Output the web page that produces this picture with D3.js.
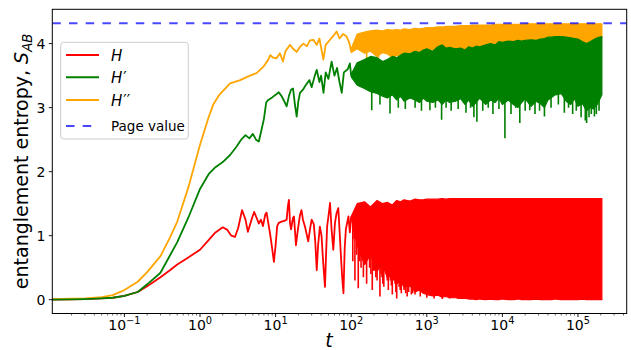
<!DOCTYPE html>
<html><head><meta charset="utf-8">
<script src="https://cdn.jsdelivr.net/npm/d3@7"></script>
<style>body{margin:0;background:#fff}svg{display:block}</style>
</head><body>
<svg id="c" width="631" height="350"></svg>
<script>
// ---------- data ----------
const pageValue = 4.32;
const yTicks = [0, 1, 2, 3, 4];
const xTickExps = [-1, 0, 1, 2, 3, 4, 5];

// early-time curves (single line)
const tRed = [0.0111,0.02,0.03,0.05,0.07,0.1,0.15,0.2,0.3,0.4,0.5,0.7,1.0,1.3,1.6,2,2.3,2.6,2.9,3.2,3.6,4.0,4.3,4.8,5.2,5.6,6.0,6.4,6.8,7.3,7.6,8.0,8.5,9.0,9.5,10,10.5,11,12,13,14,14.5,15,15.5,16,17,17.5,18.6,19.5,21,22,23,24.5,26,27,28.5,30,32,33.5,35,36.5,38.5,40.5,42.5,45,46.5,48,50,52.5,55,58,61,64,67.5,70,73,76,79,82,85,88,92,96,100];
const sRed = [0,0.005,0.01,0.02,0.03,0.06,0.12,0.21,0.35,0.46,0.55,0.66,0.78,0.93,1.05,1.13,1.09,1.0,0.98,1.12,1.40,1.25,1.06,1.25,1.37,1.28,1.19,1.25,1.15,1.33,1.36,1.20,1.01,0.80,0.59,0.85,1.15,1.20,1.22,1.23,1.25,1.45,1.56,1.20,1.10,1.28,1.30,0.85,1.05,1.32,1.40,1.25,1.14,1.0,0.91,1.1,1.25,1.18,0.9,0.46,0.85,1.14,1.0,0.6,0.20,0.7,1.14,1.3,1.51,1.1,0.78,1.2,1.35,1.43,1.1,0.7,0.35,0.10,0.8,1.1,1.19,1.3,1.05,1.30];

const tGreen = [0.0111,0.02,0.03,0.05,0.07,0.1,0.15,0.2,0.3,0.4,0.5,0.7,1.0,1.3,1.6,2,2.5,3,3.5,4,4.5,5,5.5,6,6.5,7,7.5,8,9,10,11,12,13,14,15,16,17,18,19,20,21,23,25,28,30,33,35,38,40,43,46,50,55,60,65,70,75,80,90,96,100];
const sGreen = [0,0.005,0.01,0.02,0.03,0.06,0.12,0.24,0.42,0.69,0.90,1.28,1.73,1.96,2.07,2.15,2.26,2.38,2.50,2.57,2.52,2.59,2.50,2.47,2.65,2.82,3.08,3.12,3.16,3.20,3.24,3.18,3.10,3.02,3.18,3.28,3.30,3.05,2.86,3.10,3.23,3.28,3.35,3.43,3.32,3.50,3.59,3.40,3.50,3.23,3.55,3.45,3.72,3.50,3.62,3.40,3.23,3.55,3.60,3.69,3.50];

const tOrange = [0.0111,0.02,0.03,0.05,0.07,0.1,0.15,0.2,0.3,0.4,0.5,0.7,1.0,1.3,1.5,1.8,2.5,3.4,4.2,5.6,6.9,8,8.5,9.3,10.3,11.4,12.5,13.5,15.5,17,19,21,23.3,26,28.5,31.6,35,38,42.8,46,52.4,58,64,70,78,87,94,100];
const sOrange = [0.01,0.015,0.02,0.04,0.07,0.15,0.28,0.43,0.68,0.97,1.22,1.75,2.42,2.85,3.05,3.2,3.38,3.43,3.48,3.54,3.64,3.75,3.82,3.78,3.77,3.85,3.72,3.88,3.98,3.92,3.87,3.95,4.0,3.96,4.05,4.06,3.98,4.08,3.75,3.98,4.06,4.12,4.19,4.08,4.15,4.11,4.02,3.88];

// late-time dense oscillation: envelope (min / max)
const tBand = [100,120,150,180,220,260,300,350,400,450,500,600,700,800,900,1000,1200,1400,1600,1800,2000,2400,2800,3200,3600,4000,4500,5000,6000,7000,8000,9000,10000,12000,14000,16000,18000,20000,24000,28000,32000,36000,40000,45000,50000,60000,70000,80000,90000,100000,115000,130000,145000,160000,180000,207000];
const redHi = [1.30,1.50,1.53,1.45,1.55,1.50,1.52,1.48,1.55,1.53,1.56,1.54,1.57,1.56,1.56,1.57,1.57,1.57,1.58,1.57,1.58,1.58,1.58,1.58,1.58,1.58,1.58,1.58,1.58,1.58,1.58,1.58,1.58,1.58,1.58,1.58,1.58,1.58,1.58,1.58,1.58,1.58,1.58,1.58,1.58,1.58,1.58,1.58,1.58,1.58,1.58,1.58,1.58,1.58,1.58,1.58];
const redLo = [1.28,0.85,0.55,0.70,0.45,0.55,0.35,0.40,0.25,0.30,0.20,0.22,0.12,0.15,0.10,0.08,0.06,0.07,0.04,0.05,0.03,0.03,0.02,0.02,0.01,0.01,0.0,0.01,0.0,0.01,0.0,0.0,0.01,0.0,0.0,0.01,0.0,0.0,0.0,0.01,0.0,0.0,0.0,0.0,0.01,0.0,0.0,0.0,0.0,0.0,0.01,0.0,0.0,0.0,0.0,0.0];
const greenHi = [3.52,3.70,3.75,3.80,3.78,3.72,3.75,3.80,3.78,3.82,3.85,3.84,3.88,3.86,3.90,3.92,3.88,3.95,3.98,3.93,3.94,3.92,3.93,3.90,3.95,3.93,3.96,3.95,3.98,4.00,3.98,4.03,4.02,4.04,4.03,4.05,4.04,4.05,4.06,4.05,4.07,4.08,4.10,4.10,4.11,4.11,4.10,4.09,4.08,4.07,4.03,4.00,4.03,4.06,4.09,4.11];
const greenLo = [3.48,3.35,3.30,3.25,3.22,3.18,3.15,3.20,3.12,3.18,3.10,3.15,3.12,3.08,3.15,3.10,3.08,3.12,3.05,3.12,3.08,3.10,3.14,3.05,3.12,3.02,3.08,3.15,3.05,3.12,3.08,3.15,3.05,3.12,3.05,3.00,3.08,3.14,3.02,3.10,3.06,3.00,3.12,3.16,3.20,3.22,3.10,3.05,3.14,3.02,3.06,2.95,3.00,2.98,3.05,3.20];
const orangeHi = [3.92,4.15,4.18,4.20,4.21,4.20,4.22,4.21,4.22,4.21,4.23,4.22,4.24,4.23,4.24,4.25,4.25,4.26,4.26,4.27,4.27,4.27,4.28,4.28,4.28,4.29,4.29,4.29,4.29,4.29,4.30,4.30,4.30,4.30,4.30,4.30,4.30,4.31,4.31,4.31,4.31,4.31,4.31,4.31,4.31,4.31,4.31,4.31,4.31,4.31,4.31,4.31,4.31,4.31,4.31,4.31];
const orangeLo = [3.86,3.92,3.85,3.88,3.80,3.86,3.84,3.78,3.82,3.80,3.84,3.86,3.88,3.86,3.90,3.92,3.90,3.94,3.95,3.92,3.93,3.90,3.92,3.90,3.93,3.92,3.94,3.93,3.96,3.98,3.96,4.00,4.00,4.02,4.01,4.03,4.02,4.03,4.04,4.03,4.05,4.06,4.08,4.08,4.09,4.09,4.08,4.07,4.06,4.05,4.01,3.98,4.01,4.04,4.07,4.09];

// isolated deep minima (single samples sticking out of the band)
const tRedDip = [105,109,112,118,124,130,135,140,145,152,160,168,175,182,190,198,205,212,220,230,240,248,255,262,270,280,290,300,310,320,330,340,350,365,380,390,400,415,430,445,460,480,500,525,550,575,600,625,650,700,760,820,900,1000,1100,1250,1400,1600,1800,2000,2300,2600];
const sRedDip = [0.60,0.95,0.30,0.70,0.18,0.60,0.50,0.85,0.35,0.55,0.25,0.65,0.50,0.40,0.15,0.45,0.45,0.35,0.30,0.55,0.05,0.40,0.35,0.25,0.20,0.45,0.40,0.30,0.15,0.35,0.30,0.22,0.08,0.30,0.25,0.12,0.02,0.28,0.20,0.15,0.10,0.22,0.15,0.10,0.05,0.12,0.20,0.08,0.10,0.08,0.15,0.05,0.10,0.03,0.08,0.02,0.06,0.01,0.05,0.02,0.04,0.01];
const tGreenDip = [187,240,326,420,520,700,850,1100,1300,1570,1800,2100,2600,3300,3800,4200,4600,5500,6500,7500,9000,10800,13000,15000,17000,20000,23000,27000,31000,36000,44000,55000,66000,75000,85000,95000,110000,125000,130000,140000,150000,165000,175000,190000];
const sGreenDip = [2.96,3.05,2.91,3.00,2.98,3.00,2.95,2.96,3.00,2.81,3.00,2.95,2.98,2.92,3.00,2.85,2.78,2.95,3.00,2.90,2.98,2.52,2.90,3.00,2.76,2.95,2.96,2.90,2.95,2.86,3.00,3.05,2.92,3.00,2.90,2.95,2.85,2.80,2.76,2.85,2.90,2.86,2.90,2.95];
const tOrangeDip = [160,230,380,520];
const sOrangeDip = [3.72,3.78,3.75,3.80];

const series = [
  {name:"H", prime:"", color:"#ff0000", t:tRed, s:sRed, hi:redHi, lo:redLo, dt:tRedDip, ds:sRedDip},
  {name:"H", prime:"\u2032", color:"#008000", t:tGreen, s:sGreen, hi:greenHi, lo:greenLo, dt:tGreenDip, ds:sGreenDip},
  {name:"H", prime:"\u2032\u2032", color:"#ffa500", t:tOrange, s:sOrange, hi:orangeHi, lo:orangeLo, dt:tOrangeDip, ds:sOrangeDip}
];

// ---------- layout ----------
const L=52.3, R=626.7, T=9.3, B=313.5;
const svg = d3.select("#c");
const x = d3.scaleLog().domain([0.01112, 4.41e5]).range([L, R]);
const y = d3.scaleLinear().domain([-0.216, 4.536]).range([B, T]);
const FONT = "DejaVu Sans, sans-serif";

svg.append("defs").append("clipPath").attr("id","clip")
  .append("rect").attr("x",L).attr("y",T).attr("width",R-L).attr("height",B-T);
const plot = svg.append("g").attr("clip-path","url(#clip)");

const line = d3.line().x(d=>x(d[0])).y(d=>y(d[1]));
const area = d3.area().x(d=>x(d.t)).y0(d=>y(d.lo)).y1(d=>y(d.hi));
const bis = d3.bisector(d=>d).left;

// draw order: red, orange, green
[series[0], series[2], series[1]].forEach(sr => {
  const band = tBand.map((t,i)=>({t, hi:sr.hi[i], lo:sr.lo[i]}));
  plot.append("path").datum(band).attr("d", area)
    .attr("fill", sr.color).attr("stroke", sr.color).attr("stroke-width",1.2)
    .attr("stroke-linejoin","round");
  sr.dt.forEach((t,i)=>{
    const k = Math.min(Math.max(bis(tBand,t),0),tBand.length-1);
    const mid = (sr.lo[k] + sr.hi[k]) / 2;
    plot.append("path").datum([[t, mid],[t, sr.ds[i]]]).attr("d", line)
      .attr("fill","none").attr("stroke", sr.color).attr("stroke-width",1.6);
  });
  plot.append("path").datum(sr.t.map((t,i)=>[t, sr.s[i]])).attr("d", line)
    .attr("fill","none").attr("stroke", sr.color).attr("stroke-width",1.8)
    .attr("stroke-linejoin","round");
});

// Page value
plot.append("line").attr("x1",L).attr("x2",R).attr("y1",y(pageValue)).attr("y2",y(pageValue))
  .attr("stroke","#0000ff").attr("stroke-opacity",0.72).attr("stroke-width",2)
  .attr("stroke-dasharray","8.5,8.2");

// ---------- axes ----------
const ax = svg.append("g");
ax.append("rect").attr("x",L).attr("y",T).attr("width",R-L).attr("height",B-T)
  .attr("fill","none").attr("stroke","#000").attr("stroke-width",1);

const minor = [];
for (let e=-2; e<=5; e++) for (let m=2; m<=9; m++) {
  const v = m*Math.pow(10,e);
  if (v>=x.domain()[0] && v<=x.domain()[1]) minor.push(v);
}
ax.selectAll(".mn").data(minor).enter().append("line")
  .attr("x1",d=>x(d)).attr("x2",d=>x(d)).attr("y1",B).attr("y2",B+2)
  .attr("stroke","#000").attr("stroke-width",0.6);
const xt = ax.selectAll(".xt").data(xTickExps).enter().append("g");
xt.append("line").attr("x1",d=>x(Math.pow(10,d))).attr("x2",d=>x(Math.pow(10,d)))
  .attr("y1",B).attr("y2",B+3.5).attr("stroke","#000").attr("stroke-width",0.9);
const xl = xt.append("text").attr("x",d=>x(Math.pow(10,d))).attr("y",330.2)
  .attr("text-anchor","middle").attr("font-family",FONT).attr("font-size",14).attr("fill","#000");
xl.append("tspan").text("10");
xl.append("tspan").attr("dy",-6).attr("font-size",9.8).text(d=> d<0 ? "\u2212"+Math.abs(d) : String(d));

const yt = ax.selectAll(".yt").data(yTicks).enter().append("g");
yt.append("line").attr("x1",L-3.5).attr("x2",L).attr("y1",d=>y(d)).attr("y2",d=>y(d))
  .attr("stroke","#000").attr("stroke-width",0.9);
yt.append("text").attr("x",45.5).attr("y",d=>y(d)).attr("dy","0.36em")
  .attr("text-anchor","end").attr("font-family",FONT).attr("font-size",14).text(d=>d);

const ylab = svg.append("text").attr("transform",`translate(28,${(T+B)/2}) rotate(-90)`)
  .attr("text-anchor","middle").attr("font-family",FONT).attr("font-size",19);
ylab.append("tspan").text("entanglement entropy, ");
ylab.append("tspan").attr("font-style","italic").text("S");
ylab.append("tspan").attr("font-style","italic").attr("font-size",13.3).attr("dy",4).text("AB");

svg.append("text").attr("x",329).attr("y",347).attr("text-anchor","middle")
  .attr("font-family",FONT).attr("font-size",19).attr("font-style","italic").text("t");

// ---------- legend ----------
const lg = svg.append("g");
lg.append("rect").attr("x",60.7).attr("y",42.3).attr("width",127.6).attr("height",96.7).attr("rx",3)
  .attr("fill","#fff").attr("fill-opacity",0.8).attr("stroke","#cccccc").attr("stroke-width",1);
const rows = [55, 77.3, 100];
series.forEach((sr,i)=>{
  lg.append("line").attr("x1",66).attr("x2",99).attr("y1",rows[i]).attr("y2",rows[i])
    .attr("stroke",sr.color).attr("stroke-width",2);
  const t = lg.append("text").attr("x",111).attr("y",rows[i]+6)
    .attr("font-family",FONT).attr("font-size",15);
  t.append("tspan").attr("font-style","italic").text(sr.name);
  if (sr.prime) t.append("tspan").attr("dx",1).attr("font-size",15).text(sr.prime);
});
lg.append("line").attr("x1",66).attr("x2",99).attr("y1",126).attr("y2",126)
  .attr("stroke","#0000ff").attr("stroke-opacity",0.72).attr("stroke-width",2)
  .attr("stroke-dasharray","8.5,8.2");
lg.append("text").attr("x",111).attr("y",130.5).attr("font-family",FONT).attr("font-size",13.5)
  .text("Page value");
</script>
</body></html>
